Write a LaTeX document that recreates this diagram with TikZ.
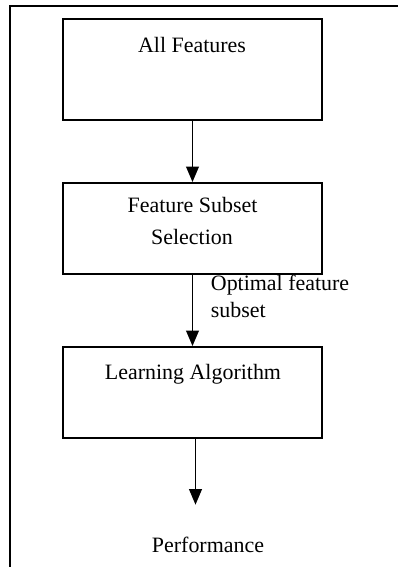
\documentclass[tikz,border=0pt]{standalone}
\usepackage{fontspec}
\setmainfont{Liberation Serif}
\usetikzlibrary{arrows.meta}
\begin{document}
\begin{tikzpicture}[x=0.025cm,y=-0.025cm,line width=1.3pt,
  box/.style={draw,line width=1.3pt,minimum width=6.475cm,inner sep=0pt},
  txt/.style={font=\fontsize{15.6}{19}\selectfont,inner sep=0pt,anchor=base},
  flow/.style={-{Triangle[width=9pt,length=11pt]},line width=1.2pt}]
\useasboundingbox (0,0) rectangle (398,567);
%frame
\draw (10,567) -- (10,6) -- (398,6);
\node[box,minimum height=2.525cm] (all) at (192.5,69.5) {};
\node[box,minimum height=2.275cm] (sel) at (192.5,228.5) {};
\node[box,minimum height=2.275cm] (learn) at (192.5,392.5) {};
\node[txt] (alltxt) at (192,52) {All Features};
\node[txt] (seltxt) at (192.5,212) {Feature Subset};
\node[txt] (seltxtb) at (192,244) {Selection};
\node[txt] (learntxt) at (193,379) {Learning Algorithm};
\node[txt,anchor=base west] (opt) at (210,290) {Optimal feature};
\node[txt,anchor=base west] (optb) at (210,317) {subset};
\node[txt] (perf) at (208,552) {Performance};
\draw[flow] (all.south) -- (sel.north);
\draw[flow] (sel.south) -- (learn.north);
\draw[flow,shorten >=22pt] ([xshift=0.075cm]learn.south) -- ([xshift=0.075cm]learn.south |- perf.north);
\end{tikzpicture}
\end{document}
